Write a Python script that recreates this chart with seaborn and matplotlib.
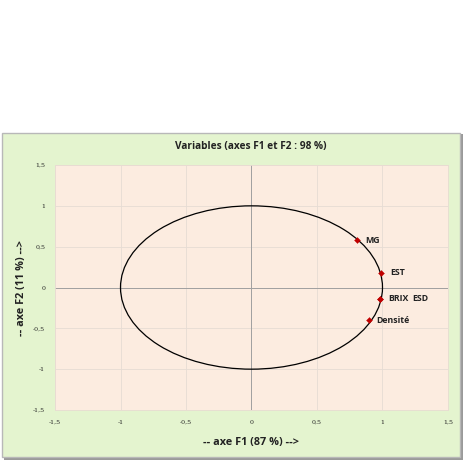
import matplotlib
matplotlib.use("Agg")
import matplotlib.pyplot as plt
import matplotlib.patches as mpatches
import seaborn as sns
import pandas as pd

variables = ["MG", "EST", "BRIX", "ESD", "Densité"]
f1 = [0.805, 0.99, 0.98, 0.98, 0.90]
f2 = [0.58, 0.18, -0.14, -0.145, -0.40]
ticks = [-1.5, -1, -0.5, 0, 0.5, 1, 1.5]
tick_labels = ["-1,5", "-1", "-0,5", "0", "0,5", "1", "1,5"]

df = pd.DataFrame({"var": variables, "F1": f1, "F2": f2})

sns.set_theme(style="white")
plt.rcParams['font.family'] = ['Open Sans', 'DejaVu Sans']

fig = plt.figure(figsize=(4.64, 4.61), dpi=100)
fig.patch.set_facecolor("white")

W, H = 464, 461
# shadow and chart frame
fig.patches.append(mpatches.Rectangle((4/W, 1 - 460/H), 459/W, 326/H, transform=fig.transFigure,
                                      facecolor="#9a9a9a", edgecolor="none", zorder=-3))
fig.patches.append(mpatches.Rectangle((2/W, 1 - 457/H), 458/W, 324/H, transform=fig.transFigure,
                                      facecolor="#e4f4cf", edgecolor="#b8b8b8", linewidth=1, zorder=-2))

ax = fig.add_axes([55/W, 1 - 410/H, 393/W, 245/H])
ax.set_zorder(1)
ax.set_facecolor("#fcece0")
ax.set_xlim(-1.5, 1.5)
ax.set_ylim(-1.5, 1.5)
ax.set_xticks(ticks)
ax.set_yticks(ticks)
ax.set_xticklabels(tick_labels, fontsize=4.5, family="DejaVu Serif")
ax.set_yticklabels(tick_labels, fontsize=4.5, family="DejaVu Serif")
ax.tick_params(length=0, pad=7)
ax.grid(True, color="#e6dcd4", linewidth=0.6)
for s in ax.spines.values():
    s.set_color("#e8dcd2")
    s.set_linewidth(0.6)
ax.axhline(0, color="#a0a0a0", linewidth=0.7, zorder=1)
ax.axvline(0, color="#a0a0a0", linewidth=0.7, zorder=1)

ax.add_patch(mpatches.Circle((0, 0), 1, fill=False, edgecolor="black", linewidth=0.9, zorder=2))

sns.scatterplot(data=df, x="F1", y="F2", ax=ax, marker="D", color="#c00000",
                s=9, edgecolor="#c00000", linewidth=0.3, zorder=3, legend=False)

offsets = {"MG": (0.06, 0.0), "EST": (0.07, 0.0), "BRIX": (0.065, 0.0), "ESD": (0.245, 0.005), "Densité": (0.05, 0.0)}
for v, x, y in zip(variables, f1, f2):
    dx, dy = offsets[v]
    ax.text(x + dx, y + dy, v, fontsize=6.3, fontweight="bold", color="#222222",
            va="center", ha="left", zorder=4)

ax.set_xlabel("")
ax.set_ylabel("")

fig.text(251/W, 1 - 147/H, "Variables (axes F1 et F2 : 98 %)", fontsize=7.3, fontweight="bold",
         ha="center", va="center", color="#222222")
fig.text(251/W, 1 - 442/H, "-- axe F1 (87 %) -->", fontsize=7.8, fontweight="bold",
         ha="center", va="center", color="#222222")
fig.text(22/W, 1 - 288/H, "-- axe F2 (11 %) -->", fontsize=7.8, fontweight="bold",
         ha="center", va="center", rotation=90, color="#222222")

fig.savefig("out.png", dpi=100, facecolor="white")
